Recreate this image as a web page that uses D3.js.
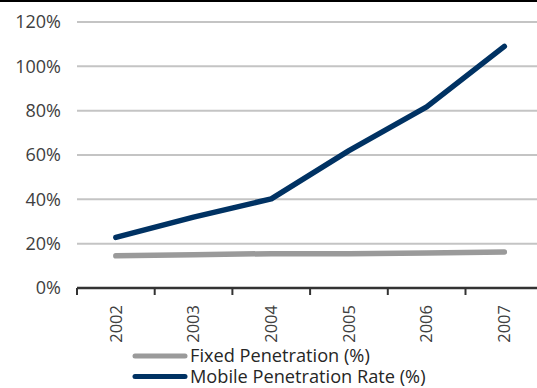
<!DOCTYPE html>
<html><head><meta charset="utf-8">
<script src="https://cdn.jsdelivr.net/npm/d3@7"></script>
<style>
html,body{margin:0;padding:0;background:#fff;}
svg{display:block;}
text{font-family:"Open Sans",sans-serif;}
</style></head>
<body>
<svg id="chart" width="537" height="388"></svg>
<script>
const years = ["2002","2003","2004","2005","2006","2007"];
const fixedPenetration = [14.5, 15.0, 15.5, 15.5, 15.8, 16.2];
const mobilePenetration = [22.8, 32.0, 40.2, 62.0, 81.7, 109.0];
const yTicks = [0, 20, 40, 60, 80, 100, 120];
const seriesNames = ["Fixed Penetration (%)", "Mobile Penetration Rate (%)"];
const seriesColors = ["#9a9a9a", "#003263"];

const svg = d3.select("#chart");
const W = 537, H = 388;
const plotLeft = 77, bandW = 77.7, plotTop = 22, plotBottom = 288;

const x = d3.scaleBand().domain(years).range([plotLeft, plotLeft + bandW * years.length]).padding(0);
const y = d3.scaleLinear().domain([0, 120]).range([plotBottom, plotTop]);

// top border
svg.append("rect").attr("x", 0).attr("y", 0).attr("width", W).attr("height", 2).attr("fill", "#000");

// gridlines
svg.append("g").selectAll("line").data(yTicks.filter(d => d > 0)).join("line")
  .attr("x1", plotLeft).attr("x2", W)
  .attr("y1", d => y(d)).attr("y2", d => y(d))
  .attr("stroke", "#c4c4c4").attr("stroke-width", 2);

// y axis labels
const yAxis = d3.axisLeft(y).tickValues(yTicks).tickFormat(d => d + "%").tickSize(0).tickPadding(16);
const gy = svg.append("g").attr("transform", `translate(${plotLeft},0)`).call(yAxis);
gy.select(".domain").remove();
gy.selectAll("text").attr("fill", "#404040").style("font-size", "18px").style("font-family", "'Open Sans',sans-serif");

// x axis line & ticks
svg.append("line").attr("x1", plotLeft).attr("x2", W).attr("y1", plotBottom).attr("y2", plotBottom)
  .attr("stroke", "#333").attr("stroke-width", 2.5);
const tickPos = years.map(d => x(d)).concat([x(years[years.length - 1]) + x.bandwidth()]);
svg.append("g").selectAll("line").data(tickPos).join("line")
  .attr("x1", d => d).attr("x2", d => d).attr("y1", plotBottom).attr("y2", plotBottom + 7)
  .attr("stroke", "#333").attr("stroke-width", 2);

// x labels
const xAxis = d3.axisBottom(x).tickSize(0).tickPadding(0);
const gx = svg.append("g").attr("transform", `translate(0,${plotBottom})`).call(xAxis);
gx.select(".domain").remove();
gx.selectAll(".tick text")
  .attr("transform", "rotate(-90)")
  .attr("x", -17).attr("y", 0).attr("dy", "0.35em")
  .attr("text-anchor", "end")
  .attr("fill", "#404040").style("font-size", "16.5px").style("font-family", "'Open Sans',sans-serif");

// lines
const line = d3.line().x((d, i) => x(years[i]) + x.bandwidth() / 2).y(d => y(d));
[fixedPenetration, mobilePenetration].forEach((s, i) => {
  svg.append("path").datum(s).attr("d", line)
    .attr("fill", "none").attr("stroke", seriesColors[i]).attr("stroke-width", 5.5)
    .attr("stroke-linecap", "round").attr("stroke-linejoin", "round");
});

// legend
const legY = [356, 376.5];
seriesNames.forEach((n, i) => {
  svg.append("line").attr("x1", 135).attr("x2", 185).attr("y1", legY[i]).attr("y2", legY[i])
    .attr("stroke", seriesColors[i]).attr("stroke-width", 5).attr("stroke-linecap", "round");
  svg.append("text").attr("x", 190).attr("y", legY[i]).attr("dy", "0.35em")
    .attr("fill", "#262626").style("font-size", "18.2px").text(n);
});
</script>
</body></html>
